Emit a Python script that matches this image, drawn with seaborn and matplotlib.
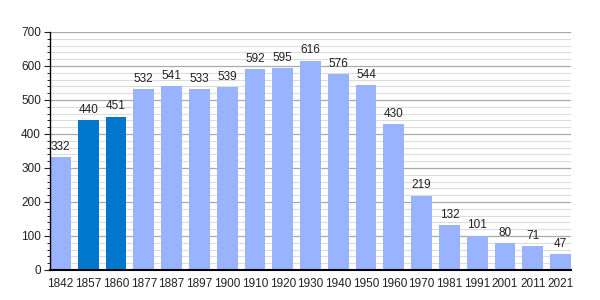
import matplotlib
matplotlib.use("Agg")
import matplotlib.pyplot as plt
from matplotlib.ticker import MultipleLocator
import seaborn as sns
import pandas as pd

years = ["1842", "1857", "1860", "1877", "1887", "1897", "1900", "1910", "1920", "1930",
         "1940", "1950", "1960", "1970", "1981", "1991", "2001", "2011", "2021"]
population = [332, 440, 451, 532, 541, 533, 539, 592, 595, 616,
              576, 544, 430, 219, 132, 101, 80, 71, 47]
highlight = ["1857", "1860"]

light = "#99b3ff"
dark = "#0077cc"

sns.set_style("white")
plt.rcParams['font.family'] = ['Liberation Sans', 'DejaVu Sans']

df = pd.DataFrame({"year": years, "pop": population})
palette = [dark if y in highlight else light for y in years]

fig = plt.figure(figsize=(6, 3), dpi=100)
ax = fig.add_axes([50/600, 30/300, 521/600, 238/300])
sns.barplot(data=df, x="year", y="pop", hue="year", palette=palette, legend=False,
            width=0.75, ax=ax, saturation=1, linewidth=0, zorder=2)

for i, v in enumerate(population):
    ax.annotate(str(v), (i, v), xytext=(0, 3), textcoords="offset points",
                ha="center", va="bottom", fontsize=8.5, color="#222222", zorder=4)

ax.set_ylim(0, 700)
ax.set_xlim(-0.375, len(years) - 1 + 0.375)
ax.yaxis.set_major_locator(MultipleLocator(100))
ax.yaxis.set_minor_locator(MultipleLocator(20))
ax.grid(which="major", axis="y", color="#aaaaaa", linewidth=0.9, zorder=0)
ax.grid(which="minor", axis="y", color="#dddddd", linewidth=0.8, zorder=0)
ax.grid(axis="x", visible=False)
ax.set_axisbelow(True)
for s in ["top", "right"]:
    ax.spines[s].set_visible(False)
for s in ["left", "bottom"]:
    ax.spines[s].set_color("black")
    ax.spines[s].set_zorder(5)
ax.spines["left"].set_linewidth(1.0)
ax.spines["bottom"].set_linewidth(1.5)
ax.tick_params(axis="y", which="major", left=True, length=4.5, width=0.8, labelsize=8.5, colors="#222222", pad=2)
ax.tick_params(axis="y", which="minor", left=True, length=2.5, width=0.6, colors="black")
ax.tick_params(axis="x", bottom=False, labelsize=8.5, colors="#222222", pad=2)
ax.set_xlabel("")
ax.set_ylabel("")

fig.savefig("out.png", dpi=100)
